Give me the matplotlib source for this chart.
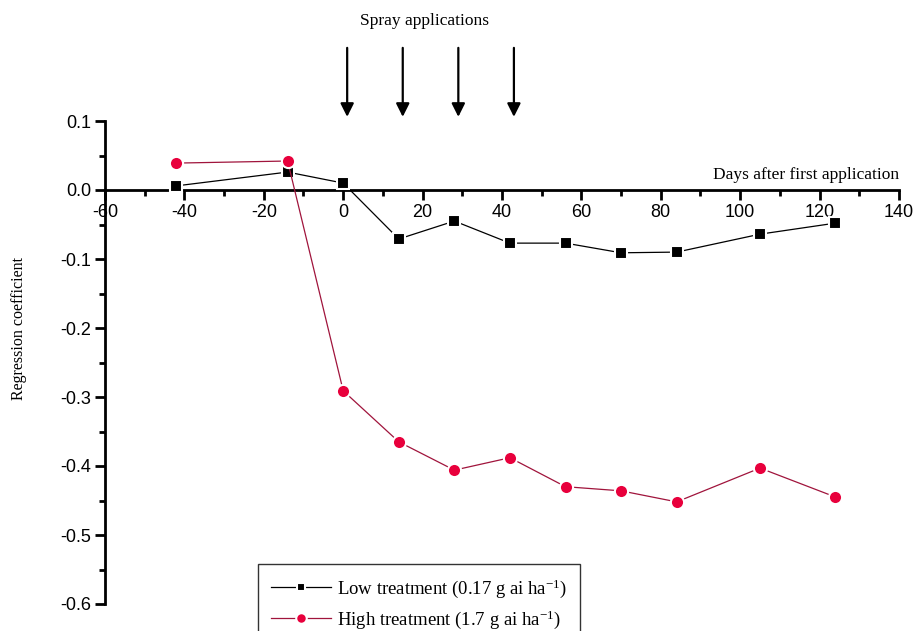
import matplotlib
matplotlib.use("Agg")
import matplotlib.pyplot as plt
from matplotlib.ticker import MultipleLocator

plt.rcParams['mathtext.default'] = 'regular'

days = [-42, -14, 0, 14, 28, 42, 56, 70, 84, 105, 124]
low = [0.006, 0.026, 0.010, -0.071, -0.045, -0.077, -0.077, -0.091, -0.090, -0.064, -0.048]
high = [0.039, 0.042, -0.291, -0.365, -0.406, -0.388, -0.430, -0.436, -0.452, -0.403, -0.445]
spray_days = [1, 15, 29, 43]
low_label = 'Low treatment (0.17 g ai ha$^{-1}$)'
high_label = 'High treatment (1.7 g ai ha$^{-1}$)'

W, H = 920, 631
fig = plt.figure(figsize=(W / 100, H / 100), dpi=100)
left, right, top, bottom = 105, 899, 121, 604
ax = fig.add_axes([left / W, 1 - bottom / H, (right - left) / W, (bottom - top) / H])
ax.set_xlim(-60, 140)
ax.set_ylim(-0.6, 0.1)

serif = 'Liberation Serif'
sans = 'Liberation Sans'

ax.plot(days, low, color='black', lw=0.9, marker='s', ms=8,
        mfc='black', mec='white', mew=1.5, label=low_label, zorder=3)
ax.plot(days, high, color='#a0143c', lw=0.9, marker='o', ms=9.5,
        mfc='#e8003c', mec='white', mew=1.5, label=high_label, zorder=3)

ax.spines['top'].set_visible(False)
ax.spines['right'].set_visible(False)
ax.spines['bottom'].set_position(('data', 0))
ax.spines['left'].set_linewidth(2)
ax.spines['bottom'].set_linewidth(2)

ax.xaxis.set_major_locator(MultipleLocator(20))
ax.xaxis.set_minor_locator(MultipleLocator(10))
ax.yaxis.set_major_locator(MultipleLocator(0.1))
ax.yaxis.set_minor_locator(MultipleLocator(0.05))
ax.tick_params(axis='both', which='major', direction='out', length=7, width=2,
               labelsize=13, pad=3)
ax.tick_params(axis='both', which='minor', direction='out', length=4, width=2)
for lab in ax.get_xticklabels() + ax.get_yticklabels():
    lab.set_fontfamily(sans)
ax.yaxis.set_major_formatter(matplotlib.ticker.FuncFormatter(lambda v, p: f'{v:.1f}'.replace('-0.0', '0.0')))
ax.xaxis.set_major_formatter(matplotlib.ticker.FuncFormatter(lambda v, p: f'{v:.0f}'))

ax.set_ylabel('Regression coefficient', fontfamily=serif, fontsize=11.5)
ax.yaxis.set_label_coords(-78 / (right - left), 0.57)

ax.text(140, 0.022, 'Days after first application', fontfamily=serif, fontsize=12.5,
        ha='right', va='center')

for d in spray_days:
    ax.annotate('', xy=(d, 0.106), xytext=(d, 0.206),
                arrowprops=dict(arrowstyle='-|>', color='black', lw=1.6,
                                mutation_scale=20, shrinkA=0, shrinkB=0),
                annotation_clip=False)
fig.text(425 / W, 1 - 21 / H, 'Spray applications', fontfamily=serif,
         fontsize=12.5, ha='center', va='center')

leg = ax.legend(loc='upper left', bbox_to_anchor=(258 / W, 1 - 564 / H),
                bbox_transform=fig.transFigure, prop={'family': serif, 'size': 13.5},
                frameon=True, fancybox=False, framealpha=1, edgecolor='#333333',
                handlelength=3.2, borderpad=0.7, labelspacing=0.45, handletextpad=0.3,
                borderaxespad=0, markerscale=0.8)
leg.get_frame().set_linewidth(1.0)

fig.savefig('out.png', dpi=100)
